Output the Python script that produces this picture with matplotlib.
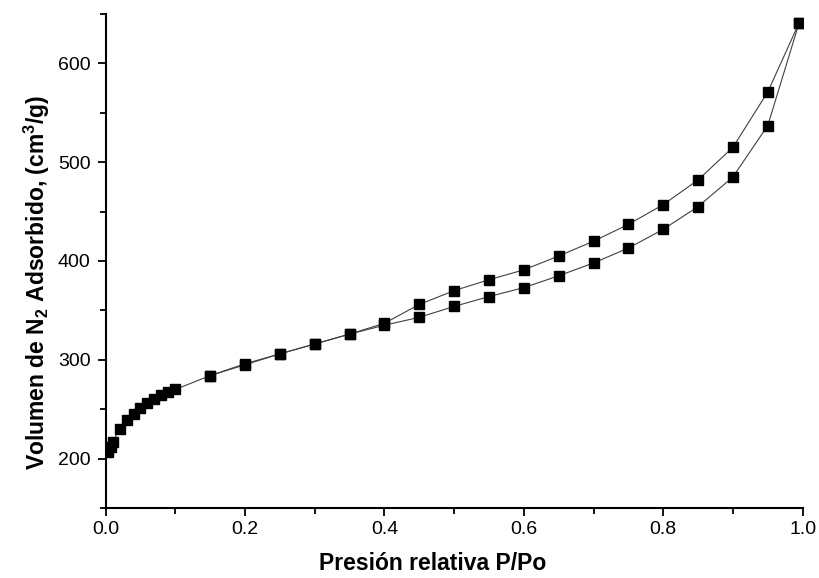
import matplotlib
matplotlib.use("Agg")
import matplotlib.pyplot as plt
from matplotlib.ticker import MultipleLocator

plt.rcParams['font.family'] = ['Liberation Sans', 'DejaVu Sans']
plt.rcParams['mathtext.fontset'] = 'custom'
plt.rcParams['mathtext.rm'] = 'Liberation Sans'
plt.rcParams['mathtext.bf'] = 'Liberation Sans:bold'

# adsorption branch (lower)
p_ads = [0.004, 0.007, 0.01, 0.02, 0.03, 0.04, 0.05, 0.06, 0.07, 0.08, 0.09, 0.10,
         0.15, 0.20, 0.25, 0.30, 0.35, 0.40, 0.45, 0.50, 0.55, 0.60, 0.65, 0.70,
         0.75, 0.80, 0.85, 0.90, 0.95, 0.995]
v_ads = [207, 212, 217, 230, 239, 245, 251, 256, 260, 264, 267, 270,
         284, 295, 306, 316, 326, 335, 343, 354, 364, 373, 385, 398,
         413, 432, 455, 485, 537, 641]

# desorption branch (upper)
p_des = [0.995, 0.95, 0.90, 0.85, 0.80, 0.75, 0.70, 0.65, 0.60, 0.55, 0.50,
         0.45, 0.40, 0.35, 0.30, 0.25, 0.20, 0.15]
v_des = [641, 571, 515, 482, 457, 437, 420, 405, 391, 381, 370,
         356, 337, 326, 316, 306, 296, 284]

fig = plt.figure(figsize=(8.19, 5.78), dpi=100)
ax = fig.add_axes([0.129, 0.121, 0.851, 0.855])

ax.plot(p_ads, v_ads, '-s', color='#404040', lw=0.8, ms=7.5,
        mfc='black', mec='black')
ax.plot(p_des, v_des, '-s', color='#404040', lw=0.8, ms=7.5,
        mfc='black', mec='black')

ax.set_xlim(0, 1.0)
ax.set_ylim(150, 650)
ax.xaxis.set_major_locator(MultipleLocator(0.2))
ax.xaxis.set_minor_locator(MultipleLocator(0.1))
ax.yaxis.set_major_locator(MultipleLocator(100))
ax.yaxis.set_minor_locator(MultipleLocator(50))
ax.tick_params(which='major', direction='out', length=6, width=1.3, labelsize=14)
ax.tick_params(axis='y', which='major', pad=5)
ax.tick_params(which='minor', direction='out', length=4, width=1.3)

for s in ['top', 'right']:
    ax.spines[s].set_visible(False)
for s in ['left', 'bottom']:
    ax.spines[s].set_linewidth(1.5)

ax.set_xlabel('Presión relativa P/Po', fontsize=16.5, fontweight='bold')
ax.set_ylabel(r'Volumen de N$_\mathbf{2}$ Adsorbido, (cm$^\mathbf{3}$/g)',
              fontsize=16.5, fontweight='bold')
ax.xaxis.set_label_coords(0.469, -0.088)
ax.yaxis.set_label_coords(-0.077, 0.457)

fig.savefig('out.png', dpi=100)
